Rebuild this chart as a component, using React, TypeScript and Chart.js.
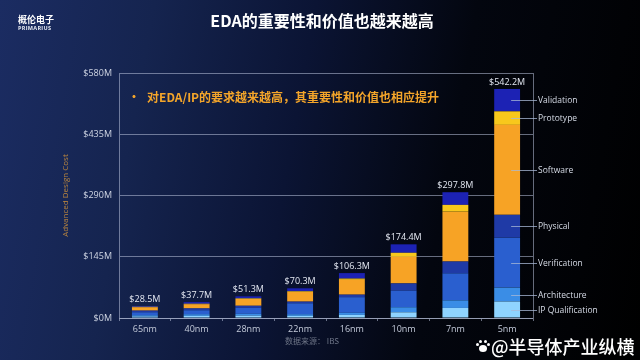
import React, { useEffect, useRef } from 'react';
import { Chart, registerables } from 'chart.js';

Chart.register(...registerables);

const categories = ['65nm', '40nm', '28nm', '22nm', '16nm', '10nm', '7nm', '5nm'];
const totalLabels = ['$28.5M', '$37.7M', '$51.3M', '$70.3M', '$106.3M', '$174.4M', '$297.8M', '$542.2M'];
const ipQualification = [3.5, 5, 5.5, 5, 7.3, 13.5, 23.8, 39];
const architecture = [3, 4, 4.5, 4, 5, 12, 18, 33];
const verification = [7, 9.2, 14, 25.8, 37, 39.4, 64, 118.2];
const physical = [4, 4.5, 5, 4, 6, 17, 28, 54];
const software = [8, 10, 16, 23, 35, 63, 118, 213];
const prototype = [1, 1, 1.3, 1.5, 3, 9.5, 16, 32];
const validation = [2, 4, 5, 7, 13, 20, 30, 53];
const yTicks = [0, 145, 290, 435, 580];

const GRID = 'rgba(185,195,220,0.55)';
const LATIN = '"Open Sans", "Noto Sans", sans-serif';
const CJK = '"Noto Sans CJK SC", "Noto Sans", sans-serif';

const overlayPlugin = {
  id: 'overlay',
  afterDraw(chart: any) {
    const { ctx, chartArea } = chart;
    ctx.save();
    // right frame border
    ctx.strokeStyle = GRID;
    ctx.lineWidth = 1;
    const rx = Math.round(chartArea.right) + 0.5;
    ctx.beginPath();
    ctx.moveTo(rx, chartArea.top);
    ctx.lineTo(rx, chartArea.bottom);
    ctx.stroke();

    // totals above bars
    const n = chart.data.datasets.length;
    const topMeta = chart.getDatasetMeta(n - 1);
    ctx.font = `9px ${LATIN}`;
    ctx.fillStyle = '#e4e8f2';
    ctx.textAlign = 'center';
    ctx.textBaseline = 'middle';
    topMeta.data.forEach((el: any, i: number) => {
      ctx.fillText(totalLabels[i], el.x, el.y - 7);
    });

    // segment labels for last bar
    const last = categories.length - 1;
    ctx.textAlign = 'left';
    ctx.font = `8.5px ${LATIN}`;
    chart.data.datasets.forEach((ds: any, i: number) => {
      const el: any = chart.getDatasetMeta(i).data[last];
      const y = Math.round((el.y + el.base) / 2) + 0.5;
      ctx.strokeStyle = 'rgba(170,185,215,0.75)';
      ctx.beginPath();
      ctx.moveTo(el.x + 4, y);
      ctx.lineTo(chartArea.right + 4, y);
      ctx.stroke();
      ctx.fillStyle = '#d6dbe6';
      ctx.fillText(ds.label, chartArea.right + 5, y + 0.5);
    });
    ctx.restore();
  },
};

export default function App() {
  const ref = useRef<HTMLCanvasElement>(null);

  useEffect(() => {
    if (!ref.current) return;
    const mk = (label: string, data: number[], color: string) => ({
      label,
      data,
      backgroundColor: color,
      borderWidth: 0,
      barPercentage: 0.5,
      categoryPercentage: 1,
    });
    const chart = new Chart(ref.current, {
      type: 'bar',
      data: {
        labels: categories,
        datasets: [
          mk('IP Qualification', ipQualification, '#8fd4ff'),
          mk('Architecture', architecture, '#3a8de6'),
          mk('Verification', verification, '#2a5fcf'),
          mk('Physical', physical, '#1f3aa6'),
          mk('Software', software, '#f7a325'),
          mk('Prototype', prototype, '#f8c81c'),
          mk('Validation', validation, '#1c22b4'),
        ],
      },
      options: {
        responsive: false,
        animation: false,
        devicePixelRatio: 1,
        layout: { padding: { left: 58, right: 107, top: 73, bottom: 22 } },
        plugins: {
          legend: { display: false },
          tooltip: { enabled: false },
        },
        scales: {
          x: {
            stacked: true,
            offset: true,
            afterFit: (s: any) => { s.height = 20; },
            grid: {
              display: true,
              drawOnChartArea: false,
              drawTicks: true,
              tickLength: 3,
              color: GRID,
            },
            border: { display: true, color: GRID },
            ticks: {
              color: '#c4cbda',
              font: { size: 9, family: LATIN },
              padding: 3,
              maxRotation: 0,
            },
          },
          y: {
            stacked: true,
            min: 0,
            max: 580,
            afterFit: (s: any) => { s.width = 61; },
            afterBuildTicks: (s: any) => { s.ticks = yTicks.map((v) => ({ value: v })); },
            grid: { color: GRID, drawTicks: false, lineWidth: 1 },
            border: { display: true, color: GRID },
            ticks: {
              color: '#cfd5e3',
              font: { size: 9, family: LATIN },
              padding: 7,
              callback: (v: any) => `$${v}M`,
            },
            title: {
              display: true,
              text: 'Advanced Design Cost',
              color: '#bb863e',
              font: { size: 8, family: LATIN },
              padding: { top: 3, bottom: 0 },
            },
          },
        },
      },
      plugins: [overlayPlugin],
    });
    return () => chart.destroy();
  }, []);

  return (
    <div
      style={{
        position: 'absolute',
        left: 0,
        top: 0,
        width: 640,
        height: 360,
        overflow: 'hidden',
        background:
          'linear-gradient(100deg, #1b2c62 0%, #15244f 22%, #0b1434 45%, #03060f 68%, #000 100%)',
      }}
    >
      <canvas ref={ref} width={640} height={360} style={{ position: 'absolute', left: 0, top: 0, width: 640, height: 360 }} />
      <div style={{ position: 'absolute', left: 18, top: 14, color: '#fff', fontFamily: CJK, fontWeight: 700, fontSize: 9, lineHeight: '11px' }}>
        概伦电子
      </div>
      <div style={{ position: 'absolute', left: 18, top: 25, color: '#e8ecf4', fontFamily: LATIN, fontWeight: 700, fontSize: 5.5, letterSpacing: 0.3, lineHeight: '7px' }}>
        PRIMARIUS
      </div>
      <div style={{ position: 'absolute', left: 0, width: 644, top: 8, textAlign: 'center', color: '#fff', fontFamily: CJK, fontWeight: 700, fontSize: 16, lineHeight: '24px' }}>
        EDA的重要性和价值也越来越高
      </div>
      <div style={{ position: 'absolute', left: 128, top: 88, color: '#f4a52a', fontFamily: CJK, fontWeight: 700, fontSize: 12, lineHeight: '18px', whiteSpace: 'nowrap' }}>
        <span style={{ display: 'inline-block', width: 19 }}>•</span>对EDA/IP的要求越来越高，其重要性和价值也相应提升
      </div>
      <div style={{ position: 'absolute', left: 285, top: 335, color: '#6d7486', fontFamily: CJK, fontSize: 8, lineHeight: '12px', whiteSpace: 'nowrap' }}>
        数据来源：&nbsp;IBS
      </div>
      <div style={{ position: 'absolute', left: 476, top: 340, width: 14, height: 13 }}>
        <div style={{ position: 'absolute', left: 3, top: 5, width: 8, height: 7, borderRadius: '50%', background: '#fff' }} />
        <div style={{ position: 'absolute', left: 0, top: 3, width: 3, height: 3, borderRadius: '50%', background: '#fff' }} />
        <div style={{ position: 'absolute', left: 3, top: 0, width: 3, height: 3, borderRadius: '50%', background: '#fff' }} />
        <div style={{ position: 'absolute', left: 8, top: 0, width: 3, height: 3, borderRadius: '50%', background: '#fff' }} />
        <div style={{ position: 'absolute', left: 11, top: 3, width: 3, height: 3, borderRadius: '50%', background: '#fff' }} />
      </div>
      <div style={{ position: 'absolute', left: 491, top: 334, color: '#fff', fontFamily: CJK, fontWeight: 500, fontSize: 18, lineHeight: '24px', whiteSpace: 'nowrap' }}>
        @半导体产业纵横
      </div>
    </div>
  );
}
